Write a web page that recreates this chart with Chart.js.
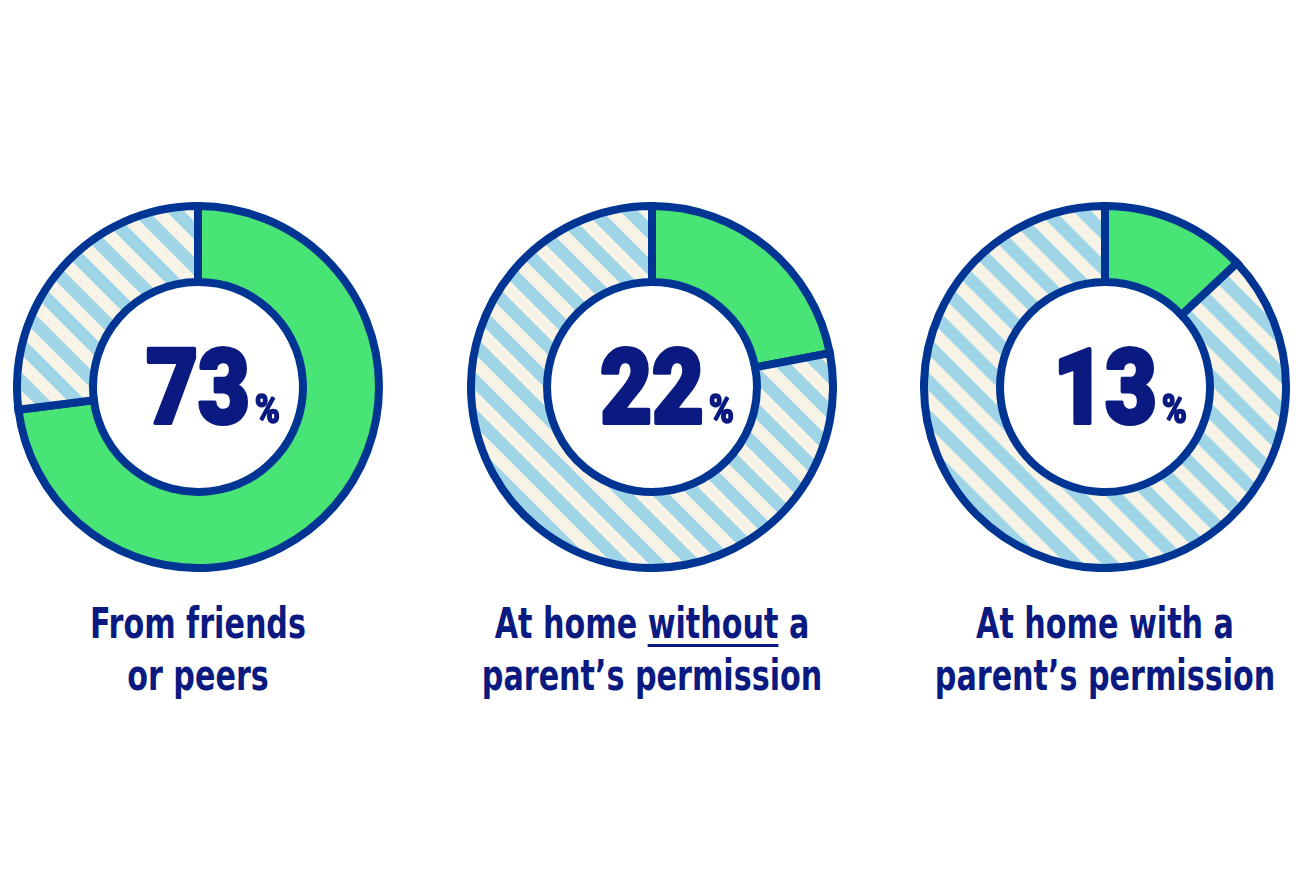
<!DOCTYPE html>
<html>
<head>
<meta charset="utf-8">
<script src="https://cdn.jsdelivr.net/npm/chart.js@4.4.1/dist/chart.umd.min.js"></script>
<style>
  html, body { margin: 0; padding: 0; background: #ffffff; }
  body { width: 1302px; height: 881px; position: relative; overflow: hidden; }
  .donut { position: absolute; top: 202px; width: 370px; height: 370px; }
  .label {
    position: absolute; top: 597px; width: 500px; text-align: center;
    font-family: "DejaVu Sans Condensed", "DejaVu Sans", sans-serif;
    font-weight: bold; font-size: 43px; line-height: 52px; color: #0a1a80;
    white-space: nowrap;
    transform: scaleX(0.78);
  }
  .label u { text-decoration-thickness: 3px; text-underline-offset: 6px; }
</style>
</head>
<body>
<script>
// data
const categories = ['From friends or peers', 'At home without a parent\u2019s permission', 'At home with a parent\u2019s permission'];
const labelHtml = [
    'From friends<br>or peers',
    'At home <u>without</u> a<br>parent\u2019s permission',
    'At home with a<br>parent\u2019s permission'
];
const shares = [73, 22, 13];
const remainders = [27, 78, 87];
const centers = [198, 652, 1105];

const NAVY = '#0a1a80';
const BORDER = '#003594';
const GREEN = '#48e475';
const STRIPE_BLUE = '#9fd5e6';
const STRIPE_CREAM = '#f7f3e7';

// diagonal stripe fill for the remainder slice
function stripePattern() {
    const s = 36;
    const half = 18; // blue band width measured along x
    const c = document.createElement('canvas');
    c.width = s;
    c.height = s;
    const g = c.getContext('2d');
    g.fillStyle = STRIPE_CREAM;
    g.fillRect(0, 0, s, s);
    g.fillStyle = STRIPE_BLUE;
    [-1, 0, 1].forEach(k => {
        const x0 = k * s;
        g.beginPath();
        g.moveTo(x0 - s, -s);
        g.lineTo(x0 - s + half, -s);
        g.lineTo(x0 + 2 * s + half, 2 * s);
        g.lineTo(x0 + 2 * s, 2 * s);
        g.closePath();
        g.fill();
    });
    return g.createPattern(c, 'repeat');
}

// big percentage in the hole
const centerText = {
    id: 'centerText',
    afterDraw(chart) {
        const arc = chart.getDatasetMeta(0).data[0];
        if (!arc) return;
        const ctx = chart.ctx;
        const value = String(chart.data.datasets[0].data[0]);
        const baseline = arc.y + 36;
        ctx.save();
        ctx.fillStyle = NAVY;
        ctx.strokeStyle = NAVY;
        ctx.lineJoin = 'round';
        ctx.textBaseline = 'alphabetic';
        ctx.font = '900 104px Roboto';
        const sx = 0.86;
        const w = ctx.measureText(value).width * sx;
        ctx.save();
        ctx.translate(arc.x, baseline);
        ctx.scale(sx, 1);
        ctx.textAlign = 'center';
        ctx.lineWidth = 4;
        ctx.fillText(value, 0, 0);
        ctx.strokeText(value, 0, 0);
        ctx.restore();
        ctx.font = '900 40px Roboto';
        ctx.textAlign = 'left';
        ctx.save();
        ctx.translate(arc.x + w / 2 + 5, baseline);
        ctx.scale(0.85, 1);
        ctx.lineWidth = 1.5;
        ctx.fillText('%', 0, 0);
        ctx.strokeText('%', 0, 0);
        ctx.restore();
        ctx.restore();
    }
};

function makeDonut(i) {
    const box = document.createElement('div');
    box.className = 'donut';
    box.style.left = (centers[i] - 185) + 'px';
    const canvas = document.createElement('canvas');
    canvas.width = 370;
    canvas.height = 370;
    box.appendChild(canvas);
    document.body.appendChild(box);

    const label = document.createElement('div');
    label.className = 'label';
    label.style.left = (centers[i] - 250) + 'px';
    label.innerHTML = labelHtml[i];
    document.body.appendChild(label);

    new Chart(canvas.getContext('2d'), {
        type: 'doughnut',
        data: {
            labels: [categories[i], 'Other'],
            datasets: [{
                data: [shares[i], remainders[i]],
                backgroundColor: [GREEN, stripePattern()],
                borderColor: BORDER,
                borderWidth: 8,
                borderJoinStyle: 'miter',
                hoverOffset: 0,
                offset: 0
            }]
        },
        options: {
            responsive: false,
            animation: false,
            cutout: '58%',
            events: [],
            layout: { padding: 0 },
            plugins: {
                legend: { display: false },
                tooltip: { enabled: false }
            }
        },
        plugins: [centerText]
    });
}

document.addEventListener('DOMContentLoaded', () => {
    for (let i = 0; i < shares.length; i++) {
        makeDonut(i);
    }
});
</script>
</body>
</html>
